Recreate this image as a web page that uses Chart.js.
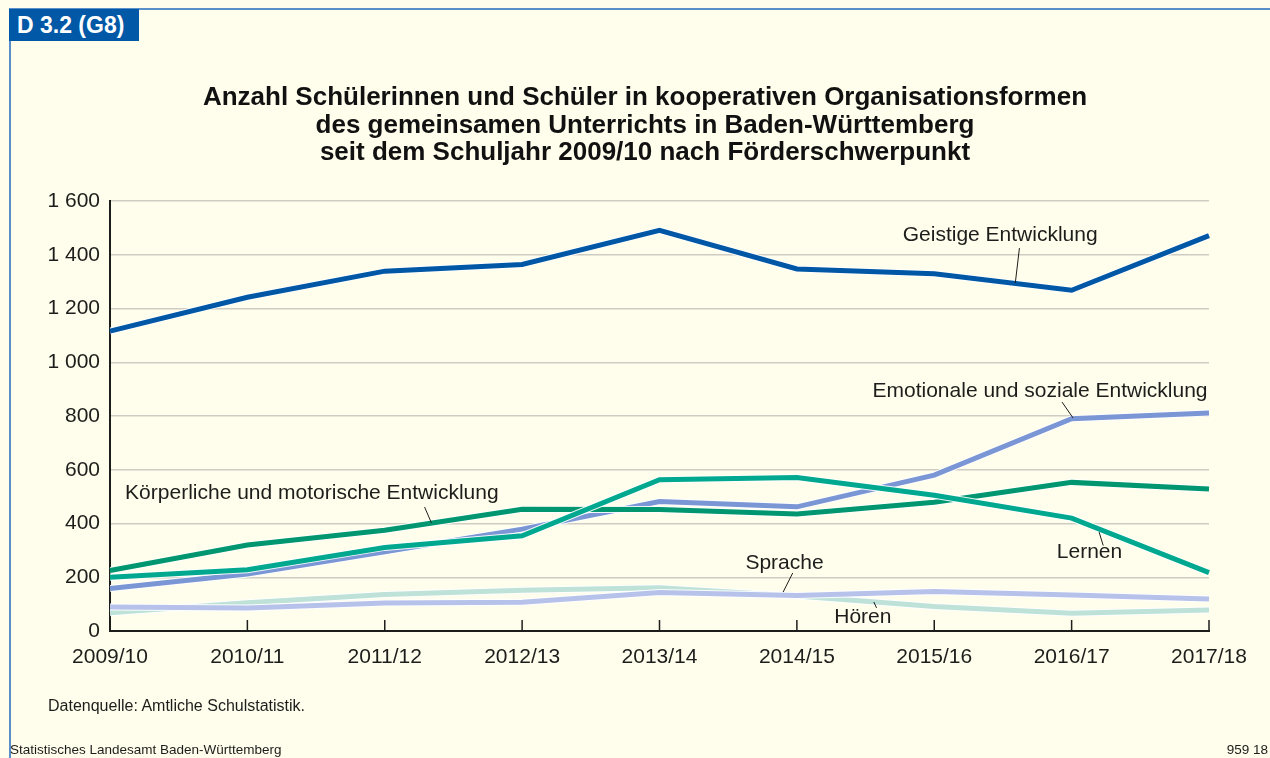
<!DOCTYPE html>
<html lang="de">
<head>
<meta charset="utf-8">
<title>D 3.2 (G8)</title>
<script src="https://cdn.jsdelivr.net/npm/chart.js@4.4.1/dist/chart.umd.min.js"></script>
<style>
body{margin:0;background:#fffdeb;font-family:"Liberation Sans",Arial,sans-serif;color:#1d1d1b}
#page{position:relative;width:1270px;height:758px;overflow:hidden;background:#fffdeb}
#topline{position:absolute;left:9px;top:8px;width:1261px;height:2px;background:#5b8fca}
#leftline{position:absolute;left:9px;top:8px;width:2px;height:750px;background:#5b8fca}
#badge{position:absolute;left:9px;top:9px;width:130px;height:32px;background:#0058a6;color:#fff;font-weight:bold;font-size:23px;line-height:32px;padding-left:8px;box-sizing:border-box}
#title{position:absolute;left:0;width:1290px;top:83px;text-align:center;font-weight:bold;font-size:26px;line-height:27.5px;color:#111}
#source{position:absolute;left:48px;top:697px;font-size:16px}
#org{position:absolute;left:10px;top:742px;font-size:13.5px}
#num{position:absolute;right:2px;top:742px;font-size:13.5px}
canvas{position:absolute;left:0;top:0}
</style>
</head>
<body>
<div id="page">
  <canvas id="chart" width="1270" height="758"></canvas>
  <div id="topline"></div>
  <div id="leftline"></div>
  <div id="badge">D 3.2 (G8)</div>
  <div id="title">Anzahl Schülerinnen und Schüler in kooperativen Organisationsformen<br>des gemeinsamen Unterrichts in Baden-Württemberg<br>seit dem Schuljahr 2009/10 nach Förderschwerpunkt</div>
  <div id="source">Datenquelle: Amtliche Schulstatistik.</div>
  <div id="org">Statistisches Landesamt Baden-Württemberg</div>
  <div id="num">959 18</div>
</div>
<script>
/* Data */
const years = ['2009/10','2010/11','2011/12','2012/13','2013/14','2014/15','2015/16','2016/17','2017/18'];
const geistige    = [1116,1242,1339,1364,1491,1347,1329,1268,1471];
const lernen      = [200,228,311,354,563,571,505,420,217];
const koerper     = [225,320,375,453,452,435,479,553,528];
const emotional   = [158,212,295,379,482,462,580,790,811];
const sprache     = [89,86,104,107,143,132,147,134,119];
const hoeren      = [68,105,136,152,161,130,91,66,78];
const yMin = 0, yMax = 1600, yStep = 200;

/* Series labels: text anchor and leader line, in (category index, value) */
const seriesLabels = [
  {text:'Geistige Entwicklung', at:[6.48,1473], align:'center', from:[6.62,1425], to:[6.59,1295]},
  {text:'Emotionale und soziale Entwicklung', at:[6.77,893], align:'center', from:[6.93,852], to:[7.01,793]},
  {text:'Körperliche und motorische Entwicklung', at:[0.11,513], align:'left', from:[2.29,461], to:[2.34,402]},
  {text:'Lernen', at:[7.13,294], align:'center', from:[7.23,318], to:[7.20,368]},
  {text:'Sprache', at:[4.91,253], align:'center', from:[4.97,216], to:[4.90,145]},
  {text:'Hören', at:[5.48,52], align:'center', from:[5.58,86], to:[5.56,108]}
];

const FONT = '"Liberation Sans", Arial, sans-serif';
const INK = '#1d1d1b';

function fmt(v){
  if(v < 1000) return String(v);
  return Math.floor(v/1000) + ' ' + String(v%1000).padStart(3,'0');
}

/* white casing under each line, like the print version */
const casing = {id:'casing', beforeDatasetDraw(chart, args){
  const pts = args.meta.data, ds = chart.data.datasets[args.index], ctx = chart.ctx, a = chart.chartArea;
  ctx.save();
  ctx.beginPath(); ctx.rect(a.left, a.top - 5, a.right - a.left, a.bottom - a.top + 5); ctx.clip();
  ctx.strokeStyle = 'rgba(255,255,255,0.9)';
  ctx.lineWidth = ds.borderWidth + 2;
  ctx.lineJoin = 'miter';
  ctx.beginPath();
  pts.forEach((p,i)=> i ? ctx.lineTo(p.x,p.y) : ctx.moveTo(p.x,p.y));
  ctx.stroke();
  ctx.restore();
}};

/* tick marks pointing up from the x axis */
const upTicks = {id:'upTicks', beforeDatasetsDraw(chart){
  const {ctx, chartArea:a, scales:{x}} = chart;
  ctx.save();
  ctx.strokeStyle = INK; ctx.lineWidth = 1.5;
  years.forEach((_,i)=>{
    const px = x.getPixelForValue(i);
    ctx.beginPath(); ctx.moveTo(px, a.bottom); ctx.lineTo(px, a.bottom - 11); ctx.stroke();
  });
  ctx.restore();
}};

const labelPlugin = {id:'seriesLabels', afterDatasetsDraw(chart){
  const {ctx, scales:{x,y}} = chart;
  ctx.save();
  ctx.font = '21px ' + FONT;
  ctx.fillStyle = INK; ctx.strokeStyle = INK; ctx.lineWidth = 1;
  ctx.textBaseline = 'middle';
  seriesLabels.forEach(l=>{
    ctx.textAlign = l.align;
    ctx.fillText(l.text, x.getPixelForValue(l.at[0]), y.getPixelForValue(l.at[1]));
    ctx.beginPath();
    ctx.moveTo(x.getPixelForValue(l.from[0]), y.getPixelForValue(l.from[1]));
    ctx.lineTo(x.getPixelForValue(l.to[0]), y.getPixelForValue(l.to[1]));
    ctx.stroke();
  });
  ctx.restore();
}};

function series(data, color, width){
  return {data, borderColor:color, backgroundColor:color, borderWidth:width, pointRadius:0, fill:false, tension:0};
}

new Chart(document.getElementById('chart'), {
  type:'line',
  data:{labels:years, datasets:[
    series(geistige,'#0057a5',5),
    series(lernen,'#00a88f',5),
    series(koerper,'#00966f',5),
    series(emotional,'#7a96d4',5),
    series(sprache,'#b7c2ea',5),
    series(hoeren,'#bee2d8',5)
  ]},
  options:{
    responsive:false, animation:false, devicePixelRatio:1,
    layout:{padding:{top:201,right:61,left:0,bottom:0}},
    plugins:{legend:{display:false}, tooltip:{enabled:false}, title:{display:false}},
    elements:{line:{borderCapStyle:'butt', borderJoinStyle:'miter'}},
    scales:{
      x:{
        grid:{display:false, drawTicks:false},
        border:{display:true, color:INK, width:2},
        ticks:{color:INK, font:{size:21, family:FONT}, padding:14, maxRotation:0, autoSkip:false},
        afterFit(s){ s.height = 127; }
      },
      y:{
        min:yMin, max:yMax,
        grid:{color:'#cfcdc3', lineWidth:1.5, drawTicks:false},
        border:{display:true, color:INK, width:2},
        ticks:{stepSize:yStep, color:INK, font:{size:21, family:FONT}, padding:10, callback:v=>fmt(v)},
        afterFit(s){ s.width = 110; }
      }
    }
  },
  plugins:[casing, upTicks, labelPlugin]
});
</script>
</body>
</html>
